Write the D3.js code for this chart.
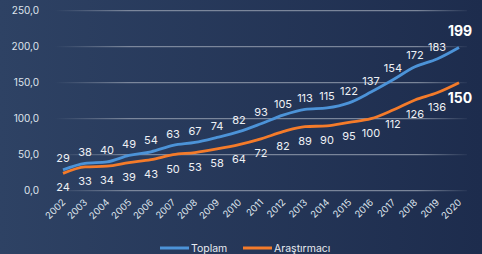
<!DOCTYPE html>
<html>
<head>
<meta charset="utf-8">
<script src="https://cdn.jsdelivr.net/npm/d3@7/dist/d3.min.js"></script>
<style>
  html, body { margin: 0; padding: 0; overflow: hidden; }
  text { font-family: "Inter", "Open Sans", sans-serif; }
</style>
</head>
<body>
<script>
// veriler
var years = [2002,2003,2004,2005,2006,2007,2008,2009,2010,2011,2012,2013,2014,2015,2016,2017,2018,2019,2020]
var toplam = [29,38,40,49,54,63,67,74,82,93,105,113,115,122,137,154,172,183,199]
var arastirmaci = [24,33,34,39,43,50,53,58,64,72,82,89,90,95,100,112,126,136,150]
var yTicks = [0,50,100,150,200,250]

var width = 482, height = 254
var svg = d3.select("body").append("svg").attr("width", width).attr("height", height)

var defs = svg.append("defs")
var bg = defs.append("linearGradient").attr("id", "bg").attr("x1", "0").attr("x2", "1").attr("y1", "0").attr("y2", "0")
bg.append("stop").attr("offset", "0%").attr("stop-color", "#2e4264")
bg.append("stop").attr("offset", "100%").attr("stop-color", "#1d2c4d")
var gg = defs.append("linearGradient").attr("id", "grid").attr("gradientUnits", "userSpaceOnUse")
    .attr("x1", 55).attr("x2", 467).attr("y1", 0).attr("y2", 0)
gg.append("stop").attr("offset", "0%").attr("stop-color", "#8e98aa").attr("stop-opacity", 0)
gg.append("stop").attr("offset", "18%").attr("stop-color", "#8e98aa").attr("stop-opacity", 1)
gg.append("stop").attr("offset", "88%").attr("stop-color", "#8e98aa").attr("stop-opacity", 1)
gg.append("stop").attr("offset", "100%").attr("stop-color", "#8e98aa").attr("stop-opacity", 0.1)

svg.append("rect").attr("width", width).attr("height", height).attr("fill", "url(#bg)")

var x = d3.scalePoint().domain(years).range([63, 459])
var y = d3.scaleLinear().domain([0, 250]).range([190.7, 10.7])

// grid + y etiketleri
svg.selectAll(".grid").data(yTicks).enter().append("line")
    .attr("x1", 55).attr("x2", 467)
    .attr("y1", d => y(d)).attr("y2", d => y(d))
    .attr("stroke", "url(#grid)").attr("stroke-width", 1)
svg.selectAll(".ylab").data(yTicks).enter().append("text")
    .attr("x", 39).attr("y", d => y(d) + 3.5)
    .attr("text-anchor", "end").attr("font-size", 10).attr("fill", "#dfe4ec")
    .text(d => d3.format(".1f")(d).replace(".", ","))

// x etiketleri
svg.selectAll(".xlab").data(years).enter().append("text")
    .attr("transform", d => "translate(" + (x(d) + 3) + ",203) rotate(-45)")
    .attr("text-anchor", "end").attr("font-size", 9.5).attr("fill", "#dfe4ec")
    .text(d => d)

var line = d3.line().x((d, i) => x(years[i])).y(d => y(d)).curve(d3.curveMonotoneX)

svg.append("path").datum(arastirmaci).attr("d", line)
    .attr("fill", "none").attr("stroke", "#f47b2a").attr("stroke-width", 2.8)
svg.append("path").datum(toplam).attr("d", line)
    .attr("fill", "none").attr("stroke", "#4c93d8").attr("stroke-width", 2.8)

// değer etiketleri
var n = years.length
svg.selectAll(".tl").data(toplam.slice(0, n - 1)).enter().append("text")
    .attr("x", (d, i) => x(years[i])).attr("y", (d, i) => y(d) - 7.5)
    .attr("text-anchor", "middle").attr("font-size", 11).attr("fill", "#eef1f5")
    .text(d => d)
svg.selectAll(".al").data(arastirmaci.slice(0, n - 1)).enter().append("text")
    .attr("x", (d, i) => x(years[i])).attr("y", (d, i) => y(d) + 18)
    .attr("text-anchor", "middle").attr("font-size", 11).attr("fill", "#eef1f5")
    .text(d => d)

// son değerler kalın
svg.append("text").attr("x", x(years[n - 1]) + 1).attr("y", y(toplam[n - 1]) - 11)
    .attr("text-anchor", "middle").attr("font-size", 14).attr("font-weight", "bold").attr("fill", "#ffffff")
    .text(toplam[n - 1])
svg.append("text").attr("x", x(years[n - 1]) + 1).attr("y", y(arastirmaci[n - 1]) + 20)
    .attr("text-anchor", "middle").attr("font-size", 14).attr("font-weight", "bold").attr("fill", "#ffffff")
    .text(arastirmaci[n - 1])

// lejant
var legend = [{name: "Toplam", color: "#4c93d8", x: 160}, {name: "Araştırmacı", color: "#f47b2a", x: 243}]
legend.forEach(function(l) {
    svg.append("line").attr("x1", l.x).attr("x2", l.x + 29).attr("y1", 248).attr("y2", 248)
        .attr("stroke", l.color).attr("stroke-width", 3)
    svg.append("text").attr("x", l.x + 31).attr("y", 251.8).attr("font-size", 10.5).attr("fill", "#e6eaf0").text(l.name)
})
</script>
</body>
</html>
